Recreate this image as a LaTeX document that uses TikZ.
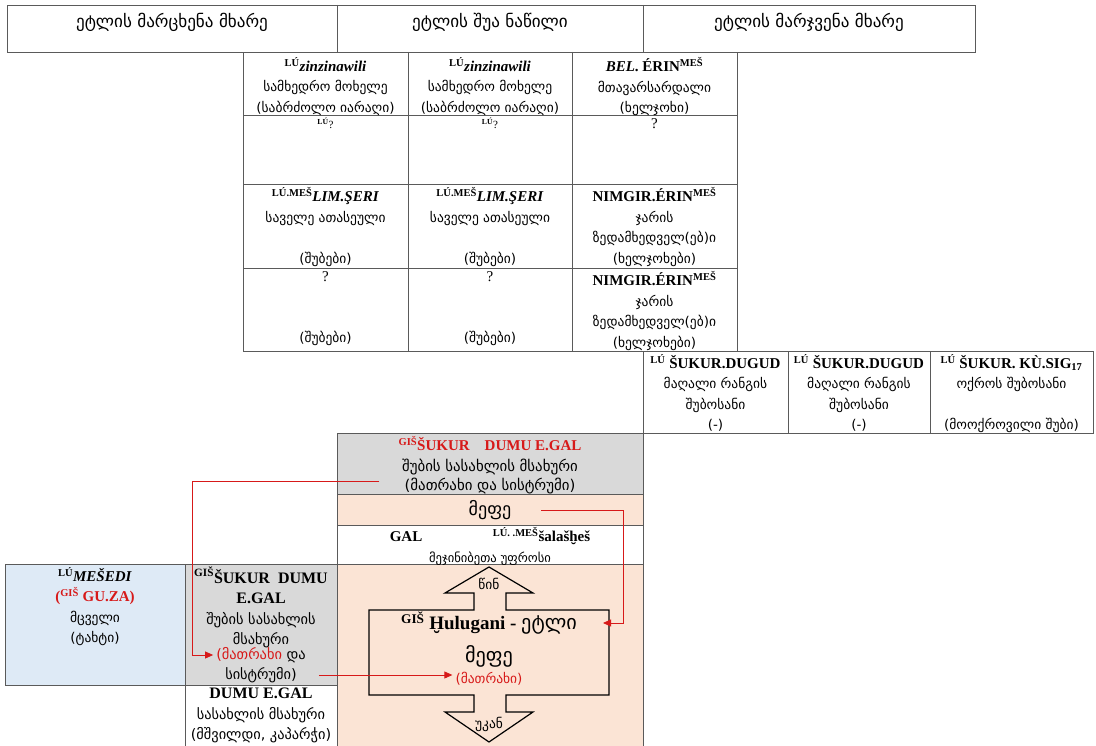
\documentclass[tikz,border=0pt]{standalone}
\usepackage{fontspec}
\setmainfont{Liberation Serif}
\newfontfamily\kafont{DejaVu Sans}[Scale=0.9]
\newcommand{\ka}[1]{{\kafont #1}}
\newcommand{\sups}[1]{\textsuperscript{\textbf{#1}}}
\usepackage{tikz}
\usetikzlibrary{arrows.meta,calc,positioning}
\definecolor{Lines}{RGB}{90,90,90}
\definecolor{Shade}{RGB}{217,217,217}
\definecolor{Peach}{RGB}{251,228,213}
\definecolor{Sky}{RGB}{222,234,246}
\definecolor{Crimson}{RGB}{215,25,25}

\begin{document}
\begin{tikzpicture}[x=1pt,y=-1pt,
  cell/.style={draw=Lines,line width=0.8pt},
  txt/.style={align=center,anchor=north,inner sep=0pt,font=\fontsize{15}{20.5}\selectfont},
  line/.style={inner sep=0pt,font=\fontsize{15}{20.5}\selectfont},
  big/.style={inner sep=0pt,font=\fontsize{19}{22}\selectfont},
  link/.style={draw=Crimson,line width=0.8pt,-{Triangle[length=8pt,width=7pt]}}]
\useasboundingbox (0,0) rectangle (1096,746);
% header row
\draw[cell] (7,5) rectangle (975,52);
\draw[cell] (337,5) -- (337,52) (643,5) -- (643,52);
\node[line,font=\fontsize{19}{22}\selectfont] (hleft) at (172,22) {\ka{ეტლის მარცხენა მხარე}};
\node[line,font=\fontsize{19}{22}\selectfont] (hmid) at (490,22) {\ka{ეტლის შუა ნაწილი}};
\node[line,font=\fontsize{19}{22}\selectfont] (hright) at (809,22) {\ka{ეტლის მარჯვენა მხარე}};
%
% upper table
\draw[cell] (243,52) rectangle (737,351);
\foreach \x in {408,572} \draw[cell] (\x,52) -- (\x,351);
\foreach \y in {115,184,268} \draw[cell] (243,\y) -- (737,\y);
\node[txt] (zin1) at (325.5,57) {\sups{LÚ}\textbf{\textit{zinzinawili}}\\ \ka{სამხედრო მოხელე}\\ \ka{(საბრძოლო იარაღი)}};
\node[txt] (zin2) at (490,57) {\sups{LÚ}\textbf{\textit{zinzinawili}}\\ \ka{სამხედრო მოხელე}\\ \ka{(საბრძოლო იარაღი)}};
\node[txt] (bel) at (654.5,57) {\textbf{\textit{BEL}. ÉRIN}\sups{MEŠ}\\ \ka{მთავარსარდალი}\\ \ka{(ხელჯოხი)}};
\node[txt,font=\fontsize{11}{12}\selectfont] (unk1) at (325.5,118) {\sups{LÚ}?};
\node[txt,font=\fontsize{11}{12}\selectfont] (unk2) at (490,118) {\sups{LÚ}?};
\node[txt] (unk3) at (654.5,118) {?};
\node[txt] (lim1) at (325.5,187) {\sups{LÚ.MEŠ}\textbf{\textit{LIM.ŞERI}}\\ \ka{საველე ათასეული}\\ \mbox{}\\ \ka{(შუბები)}};
\node[txt] (lim2) at (490,187) {\sups{LÚ.MEŠ}\textbf{\textit{LIM.ŞERI}}\\ \ka{საველე ათასეული}\\ \mbox{}\\ \ka{(შუბები)}};
\node[txt] (nim1) at (654.5,187) {\textbf{NIMGIR.ÉRIN}\sups{MEŠ}\\ \ka{ჯარის}\\ \ka{ზედამხედველ(ებ)ი}\\ \ka{(ხელჯოხები)}};
\node[txt] (qs1) at (325.5,271) {?\\ \mbox{}\\ \mbox{}\\ \ka{(შუბები)}};
\node[txt] (qs2) at (490,271) {?\\ \mbox{}\\ \mbox{}\\ \ka{(შუბები)}};
\node[txt] (nim2) at (654.5,271) {\textbf{NIMGIR.ÉRIN}\sups{MEŠ}\\ \ka{ჯარის}\\ \ka{ზედამხედველ(ებ)ი}\\ \ka{(ხელჯოხები)}};
%
% right table
\draw[cell] (643,351) rectangle (1093,433);
\foreach \x in {788,930} \draw[cell] (\x,351) -- (\x,433);
\node[txt] (dug1) at (715.5,354) {\sups{LÚ} \textbf{ŠUKUR.DUGUD}\\ \ka{მაღალი რანგის}\\ \ka{შუბოსანი}\\ \ka{(-)}};
\node[txt] (dug2) at (859,354) {\sups{LÚ} \textbf{ŠUKUR.DUGUD}\\ \ka{მაღალი რანგის}\\ \ka{შუბოსანი}\\ \ka{(-)}};
\node[txt] (gold) at (1011.5,354) {\sups{LÚ} \textbf{ŠUKUR. KÙ.SIG}\textsubscript{\textbf{17}}\\ \ka{ოქროს შუბოსანი}\\ \mbox{}\\ \ka{(მოოქროვილი შუბი)}};
%
% middle column
\fill[Shade] (337,433) rectangle (643,494);
\fill[Peach] (337,494) rectangle (643,525);
\fill[Peach] (337,564) rectangle (643,746);
\draw[cell] (337,746) -- (337,433) -- (643,433) -- (643,746);
\foreach \y in {494,525,564} \draw[cell] (337,\y) -- (643,\y);
\node[txt] (spear) at (490,436) {{\color{Crimson}\sups{GIŠ}\textbf{ŠUKUR\quad DUMU E.GAL}}\\ {\fontsize{16.5}{20.5}\selectfont\ka{შუბის სასახლის მსახური}}};
\node[line,font=\fontsize{16.5}{20.5}\selectfont] (gwhip) at (490,486) {\ka{(მათრახი და სისტრუმი)}};
\node[big,font=\fontsize{20}{22}\selectfont] (king) at (490,510) {\ka{მეფე}};
\node[txt] (groom) at (490,527) {\textbf{GAL}\hspace{4.7em}\sups{LÚ. .MEŠ}\textbf{šalašḫeš}\\ {\fontsize{14}{19.5}\selectfont\ka{მეჯინიბეთა უფროსი}}};
% chariot
\draw[line width=1.2pt,fill=Peach] (474,610) -- (474,593) -- (445,593) -- (489,567) -- (533,593)
  -- (506,593) -- (506,610) -- (609,610) -- (609,695) -- (506,695) -- (506,712) -- (533,712)
  -- (489,742) -- (445,712) -- (474,712) -- (474,695) -- (369,695) -- (369,610) -- cycle;
\node[line] (fwd) at (489,584) {\ka{წინ}};
\node[big] (hulu) at (489,623) {\sups{GIŠ} \textbf{Ḫulugani - }{\fontsize{22.5}{24}\selectfont\ka{ეტლი}}};
\node[big,font=\fontsize{22.5}{24}\selectfont] (king2) at (489,656) {\ka{მეფე}};
\node[line] (cwhip) at (489,679) {\color{Crimson}\ka{(მათრახი)}};
\node[line] (back) at (489,724) {\ka{უკან}};
%
% left side
\fill[Sky] (5,564) rectangle (185,685);
\fill[Shade] (185,564) rectangle (337,685);
\draw[cell] (5,564) rectangle (337,685);
\draw[cell] (185,564) -- (185,746);
\node[txt] (guard) at (95,567) {\sups{LÚ}\textbf{\textit{MEŠEDI}}\\ {\color{Crimson}\textbf{(}\sups{GIŠ} \textbf{GU.ZA)}}\\ \ka{მცველი}\\ \ka{(ტახტი)}};
\node[txt,font=\fontsize{16}{20.5}\selectfont] (lspear) at (261,567) {\sups{GIŠ}\textbf{ŠUKUR\enspace DUMU}\\ \textbf{E.GAL}\\ \ka{შუბის სასახლის}\\ \ka{მსახური}};
\node[line,font=\fontsize{16}{20.5}\selectfont] (lwhip) at (261,655) {\ka{{\color{Crimson}(მათრახი} და}};
\node[line,font=\fontsize{16}{20.5}\selectfont] (lsis) at (261,675) {\ka{სისტრუმი)}};
\node[txt,font=\fontsize{16}{20.5}\selectfont] (dumu) at (261,688) {\textbf{DUMU E.GAL}\\ \ka{სასახლის მსახური}\\ \ka{(მშვილდი, კაპარჭი)}};
%
% red links
\coordinate (gstart) at ($(gwhip.west)+(-25,-5)$);
\coordinate (lturn) at (192,0);
\coordinate (rturn) at (623,0);
\draw[link] (gstart) -| (lturn |- lwhip.west) -- ([xshift=-3pt]lwhip.west);
\draw[link] ([xshift=22pt]lsis.east) -- ([xshift=-3pt]lsis.east -| cwhip.west);
\draw[link] ([xshift=30pt]king.east) -- (king.east -| rturn) |- ([xshift=26pt]hulu.east);
\end{tikzpicture}
\end{document}
